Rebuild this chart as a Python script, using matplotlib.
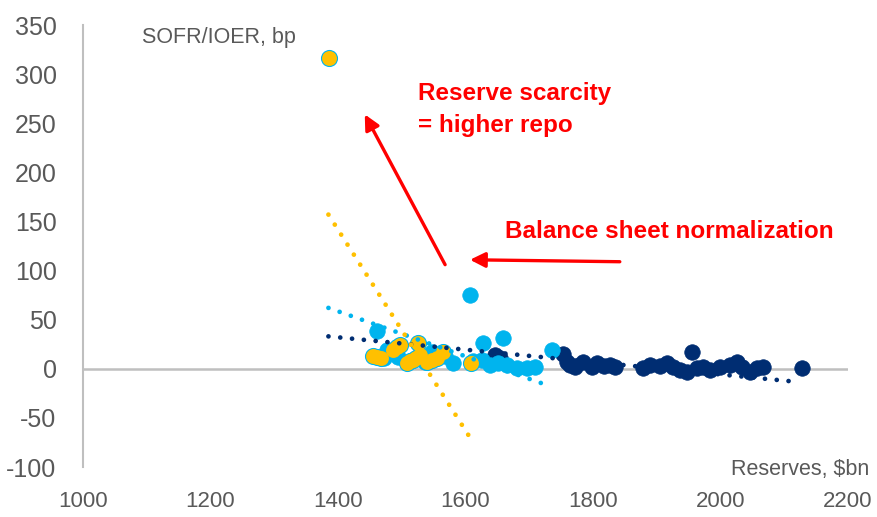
#SOFR/IOER vs reserves scatter

# Import necessary libraries
import matplotlib.pyplot as plt

plt.rcParams['axes.unicode_minus'] = False

# Step 1: Data (reserves in $bn, spread in bp)
navy_x = [1646, 1654, 1753, 1759, 1764, 1772, 1784, 1798, 1806, 1817, 1827, 1834,
          1878, 1889, 1905, 1916, 1925, 1936, 1947, 1955, 1963, 1973, 1984, 1999,
          2015, 2026, 2034, 2046, 2057, 2067, 2128]
navy_y = [14, 11, 15, 7, 4, 2, 7, 2, 6, 3, 4, 2,
          1, 4, 3, 6, 2, -1, -3, 17, 1, 2, -1, 2,
          4, 7, 2, -3, 1, 2, 1]

blue_x = [1461, 1472, 1477, 1494, 1536, 1547, 1568, 1580, 1607, 1627, 1659, 1612,
          1626, 1638, 1651, 1665, 1681, 1696, 1709, 1736]
blue_y = [38, 11, 19, 12, 7, 17, 13, 6, 75, 26, 31, 8,
          9, 4, 6, 4, 1, 1, 2, 19]

gold_x = [1386, 1455, 1461, 1467, 1486, 1492, 1497, 1508, 1513, 1518, 1523, 1529,
          1525, 1540, 1548, 1555, 1565, 1609]
gold_y = [316, 13, 12, 11, 19, 22, 24, 6, 8, 9, 11, 14,
          26, 7, 9, 11, 17, 6]

# Trend line end points
navy_trend_x = [1385, 2115]
navy_trend_y = [33, -13]
blue_trend_x = [1385, 1725]
blue_trend_y = [62, -16]
gold_trend_x = [1385, 1607]
gold_trend_y = [157, -70]

# Step 2: Colours
navy = '#002D72'
blue = '#00B4EE'
gold = '#FFC000'
grey_text = '#595959'
red = '#FF0000'

# Step 3: Plot
fig = plt.figure(figsize=(8.77, 5.17), dpi=100)
ax = fig.add_axes([0.0946, 0.0967, 0.8724, 0.8549])

ax.axhline(0, color='#BFBFBF', lw=1.8, zorder=1)
ax.scatter(navy_x, navy_y, s=125, color=navy, edgecolor=navy, lw=0.5, zorder=2)
ax.scatter(blue_x, blue_y, s=125, color=blue, edgecolor=blue, lw=0.5, zorder=3)
# gold markers: outline pass first, then fill so overlapping points merge
ax.scatter(gold_x, gold_y, s=115, color=blue, edgecolor=blue, lw=1.6, zorder=4)
ax.scatter(gold_x, gold_y, s=115, color=gold, lw=0, zorder=4.5)

dots = dict(linestyle=(0, (0.01, 2.5)), lw=3.4, dash_capstyle='round', zorder=5)
ax.plot(navy_trend_x, navy_trend_y, color=navy, **dots)
ax.plot(blue_trend_x, blue_trend_y, color=blue, **dots)
ax.plot(gold_trend_x, gold_trend_y, color=gold, **dots)

# Axes styling
ax.set_xlim(1000, 2200)
ax.set_ylim(-100, 350)
ax.set_xticks(range(1000, 2201, 200))
ax.set_yticks(range(-100, 351, 50))
for side in ['top', 'right', 'bottom']:
    ax.spines[side].set_visible(False)
ax.spines['left'].set_color('#BFBFBF')
ax.spines['left'].set_linewidth(1.5)
ax.tick_params(length=0)
ax.tick_params(axis='y', pad=19)
ax.tick_params(axis='x', pad=17)
for lab in ax.get_yticklabels():
    lab.set_fontfamily('Liberation Sans')
    lab.set_fontsize(18)
    lab.set_color(grey_text)
for lab in ax.get_xticklabels():
    lab.set_fontfamily('Liberation Sans')
    lab.set_fontsize(16)
    lab.set_color(grey_text)

# Axis titles inside the plot
ax.text(1093, 348, 'SOFR/IOER, bp', fontsize=15.5, color=grey_text,
        family='Liberation Sans', va='top', ha='left')
ax.text(2234, -103, 'Reserves, $bn', fontsize=15.5, color=grey_text,
        family='Liberation Sans', va='center', ha='right')

# Annotations
ax.text(1525, 292, 'Reserve scarcity\n= higher repo', fontsize=17.5, color=red,
        fontweight='bold', family='Liberation Sans', va='top', ha='left',
        linespacing=1.5)
ax.text(1662, 140, 'Balance sheet normalization', fontsize=17.5, color=red,
        fontweight='bold', family='Liberation Sans', va='center', ha='left')

arrow = dict(arrowstyle='-|>,head_length=0.9,head_width=0.45', color=red, lw=2.4,
             shrinkA=0, shrinkB=0)
ax.annotate('', xy=(1442, 259), xytext=(1568, 106), arrowprops=arrow)
ax.annotate('', xy=(1607, 111), xytext=(1842, 109), arrowprops=arrow)

plt.savefig('out.png', dpi=100)
